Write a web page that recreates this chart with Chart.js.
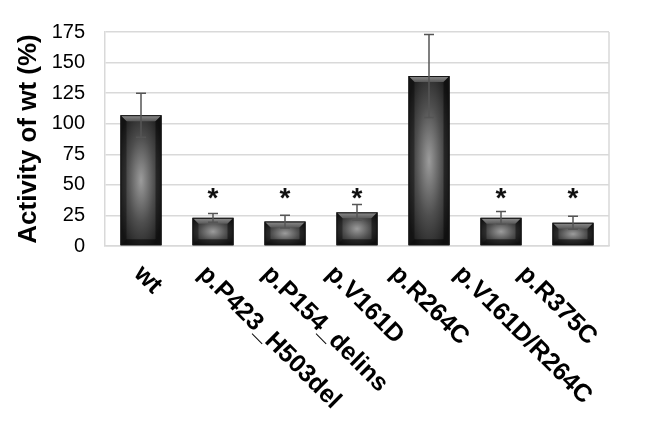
<!DOCTYPE html>
<html>
<head>
<meta charset="utf-8">
<script src="https://cdn.jsdelivr.net/npm/chart.js@4.4.0/dist/chart.umd.min.js"></script>
<style>
body { margin: 0; background: #fff; }
</style>
</head>
<body>
<canvas id="chart" width="657" height="423"></canvas>
<script>
var labels = ['wt', 'p.P423_H503del', 'p.P154_delins', 'p.V161D', 'p.R264C', 'p.V161D/R264C', 'p.R375C'];
var activity = [107, 23, 20, 27.5, 139, 23, 19];
var sd = [18, 3.5, 5.2, 6.5, 34, 5.2, 5.4];
var significant = [false, true, true, true, false, true, true];
var yTicks = [0, 25, 50, 75, 100, 125, 150, 175];
var STAR_LEVEL = 38;

var FONT = '"Liberation Sans", Arial, sans-serif';
var GRID = '#d9d9d9';

function shadeBar(ctx, bar) {
  var l = bar.x - bar.width / 2, r = bar.x + bar.width / 2;
  var t = bar.y, b = bar.base;
  var w = r - l, h = b - t, e = Math.min(6, h / 3);

  // body: soft light spot in the middle
  ctx.save();
  ctx.beginPath();
  ctx.rect(l, t, w, h);
  ctx.clip();
  ctx.translate(bar.x, t + h / 2);
  ctx.scale(w / 2, h / 2);
  var g = ctx.createRadialGradient(0, 0, 0, 0, 0, 1.2);
  g.addColorStop(0, '#9c9c9c');
  g.addColorStop(0.55, '#4e4e4e');
  g.addColorStop(1, '#1e1e1e');
  ctx.fillStyle = g;
  ctx.fillRect(-1, -1, 2, 2);
  ctx.restore();

  // bevels
  ctx.save();
  var tg = ctx.createLinearGradient(0, t, 0, t + e);
  tg.addColorStop(0, '#8e8e8e');
  tg.addColorStop(1, '#585858');
  ctx.fillStyle = tg;
  ctx.beginPath();
  ctx.moveTo(l, t); ctx.lineTo(r, t); ctx.lineTo(r - e, t + e); ctx.lineTo(l + e, t + e);
  ctx.closePath(); ctx.fill();

  ctx.fillStyle = 'rgba(0,0,0,0.35)';
  ctx.beginPath();
  ctx.moveTo(l, t); ctx.lineTo(l + e, t + e); ctx.lineTo(l + e, b - e); ctx.lineTo(l, b);
  ctx.closePath(); ctx.fill();

  ctx.fillStyle = 'rgba(0,0,0,0.45)';
  ctx.beginPath();
  ctx.moveTo(r, t); ctx.lineTo(r - e, t + e); ctx.lineTo(r - e, b - e); ctx.lineTo(r, b);
  ctx.closePath(); ctx.fill();

  ctx.fillStyle = 'rgba(0,0,0,0.5)';
  ctx.beginPath();
  ctx.moveTo(l, b); ctx.lineTo(l + e, b - e); ctx.lineTo(r - e, b - e); ctx.lineTo(r, b);
  ctx.closePath(); ctx.fill();

  ctx.strokeStyle = '#151515';
  ctx.lineWidth = 1;
  ctx.strokeRect(l + 0.5, t + 0.5, w - 1, h - 1);
  ctx.restore();
}

var barPlugin = {
  id: 'barExtras',
  beforeDatasetsDraw: function(chart) {
    var ctx = chart.ctx, a = chart.chartArea;
    ctx.save();
    ctx.strokeStyle = GRID;
    ctx.lineWidth = 1.5;
    ctx.beginPath();
    ctx.moveTo(a.right, a.top);
    ctx.lineTo(a.right, a.bottom);
    ctx.stroke();
    ctx.restore();
  },
  afterDatasetsDraw: function(chart) {
    var ctx = chart.ctx;
    var y = chart.scales.y;
    var bars = chart.getDatasetMeta(0).data;
    bars.forEach(function(bar, i) {
      shadeBar(ctx, bar);
    });
    // error bars
    ctx.save();
    ctx.strokeStyle = '#555';
    ctx.lineWidth = 1.5;
    bars.forEach(function(bar, i) {
      var hi = y.getPixelForValue(activity[i] + sd[i]);
      var lo = y.getPixelForValue(activity[i] - sd[i]);
      ctx.beginPath();
      ctx.moveTo(bar.x, hi); ctx.lineTo(bar.x, lo);
      ctx.moveTo(bar.x - 5, hi); ctx.lineTo(bar.x + 5, hi);
      ctx.moveTo(bar.x - 5, lo); ctx.lineTo(bar.x + 5, lo);
      ctx.stroke();
    });
    ctx.restore();
    // significance stars
    ctx.save();
    ctx.fillStyle = '#111';
    ctx.font = 'bold 28px ' + FONT;
    ctx.textAlign = 'center';
    ctx.textBaseline = 'middle';
    bars.forEach(function(bar, i) {
      if (significant[i]) ctx.fillText('*', bar.x, y.getPixelForValue(STAR_LEVEL));
    });
    ctx.restore();
  },
  afterDraw: function(chart) {
    // slanted category labels, reading down to the right
    var ctx = chart.ctx;
    var x = chart.scales.x;
    ctx.save();
    ctx.fillStyle = '#000';
    ctx.font = 'bold 25px ' + FONT;
    ctx.textAlign = 'left';
    ctx.textBaseline = 'alphabetic';
    labels.forEach(function(lab, i) {
      ctx.save();
      ctx.translate(x.getPixelForTick(i) - 8 - 8 * i, x.top + 29);
      ctx.rotate(Math.PI / 4);
      ctx.fillText(lab, 0, 0);
      ctx.restore();
    });
    ctx.restore();
  }
};

new Chart(document.getElementById('chart'), {
  type: 'bar',
  data: {
    labels: labels,
    datasets: [{
      data: activity,
      backgroundColor: '#333',
      borderWidth: 0,
      categoryPercentage: 1,
      barPercentage: 0.57
    }]
  },
  options: {
    responsive: false,
    animation: false,
    layout: { padding: { top: 20, right: 48, left: 0, bottom: 0 } },
    plugins: { legend: { display: false }, tooltip: { enabled: false } },
    scales: {
      x: {
        grid: { display: false },
        border: { color: GRID, width: 1.5 },
        ticks: { display: false },
        afterFit: function(s) { s.height = 177; }
      },
      y: {
        min: 0,
        max: 175,
        afterBuildTicks: function(s) { s.ticks = yTicks.map(function(v) { return { value: v }; }); },
        ticks: { color: '#000', padding: 20, font: { family: FONT, size: 20 } },
        grid: { color: GRID, lineWidth: 1.5, drawTicks: false },
        border: { color: GRID, width: 1.5 },
        title: {
          display: true,
          text: 'Activity of wt (%)',
          color: '#000',
          font: { family: FONT, size: 26, weight: 'bold' },
          padding: { top: 13 }
        },
        afterFit: function(s) { s.width = 105; }
      }
    }
  },
  plugins: [barPlugin]
});
</script>
</body>
</html>
